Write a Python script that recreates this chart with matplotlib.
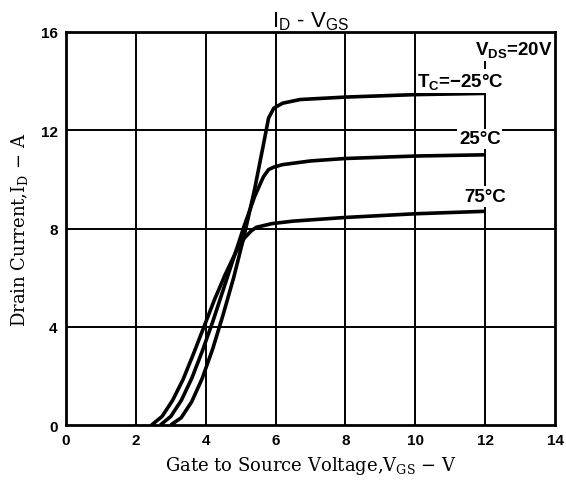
"""
I_D - V_GS transfer characteristic (V_DS = 20 V) at three case temperatures.
"""

import matplotlib.pyplot as plt

# curve readings: gate voltage (V) and drain current (A)
vgs_m25 = [3.0, 3.3, 3.6, 3.9, 4.2, 4.5, 4.8, 5.1, 5.4, 5.65, 5.8, 5.95, 6.2, 6.7, 8.0, 10.0, 12.0]
id_m25 = [0.0, 0.3, 0.95, 1.9, 3.1, 4.5, 6.0, 7.7, 9.6, 11.4, 12.5, 12.9, 13.1, 13.25, 13.35, 13.45, 13.5]

vgs_25 = [2.7, 3.0, 3.3, 3.6, 3.9, 4.2, 4.5, 4.8, 5.1, 5.4, 5.65, 5.8, 5.95, 6.2, 7.0, 8.0, 10.0, 12.0]
id_25 = [0.0, 0.35, 1.0, 1.9, 3.0, 4.2, 5.5, 6.8, 8.1, 9.3, 10.1, 10.4, 10.5, 10.6, 10.75, 10.85, 10.95, 11.0]

vgs_75 = [2.45, 2.75, 3.05, 3.35, 3.65, 3.95, 4.25, 4.55, 4.85, 5.1, 5.3, 5.45, 5.6, 5.9, 6.5, 8.0, 10.0, 12.0]
id_75 = [0.0, 0.35, 1.0, 1.85, 2.9, 4.0, 5.1, 6.1, 7.0, 7.6, 7.9, 8.05, 8.1, 8.2, 8.3, 8.45, 8.6, 8.7]

x_ticks = [0, 2, 4, 6, 8, 10, 12, 14]
y_ticks = [0, 4, 8, 12, 16]

SERIF = "DejaVu Serif"
SANS = "Liberation Sans"


def draw_frame(ax):
    ax.set_xlim(0, 14)
    ax.set_ylim(0, 16)
    ax.set_xticks(x_ticks)
    ax.set_yticks(y_ticks)
    ax.tick_params(length=0, pad=6)
    for lbl in ax.get_xticklabels() + ax.get_yticklabels():
        lbl.set_fontfamily(SANS)
        lbl.set_fontweight("bold")
        lbl.set_fontsize(11)
    for v in x_ticks[1:-1]:
        # the 12 V line stops under the V_DS note
        top = 15.2 / 16 if v == 12 else 1.0
        ax.axvline(v, ymax=top, color="black", linewidth=1.4, zorder=1)
    for v in y_ticks[1:-1]:
        ax.axhline(v, color="black", linewidth=1.4, zorder=1)
    for sp in ax.spines.values():
        sp.set_linewidth(2.0)


def draw_curves(ax):
    for xs, ys in [(vgs_m25, id_m25), (vgs_25, id_25), (vgs_75, id_75)]:
        ax.plot(xs, ys, color="black", linewidth=2.6, solid_capstyle="butt", zorder=3)


def draw_labels(ax):
    box = dict(facecolor="white", edgecolor="none", pad=1.2)
    note = dict(fontfamily=SANS, fontweight="semibold", fontsize=13.5, va="center", bbox=box, zorder=4)
    ax.text(13.92, 15.3, r"V$\mathregular{_{DS}}$=20V", ha="right", **note)
    ax.text(11.3, 14.0, r"T$\mathregular{_C}$=−25°C", ha="center", **note)
    ax.text(11.85, 11.65, "25°C", ha="center", **note)
    ax.text(12.0, 9.3, "75°C", ha="center", **note)

    ax.set_title(r"I$\mathregular{_D}$ - V$\mathregular{_{GS}}$", fontfamily=SANS,
                 fontsize=16, pad=1)
    ax.set_xlabel(r"Gate to Source Voltage,V$\mathregular{_{GS}}$ − V", fontfamily=SERIF,
                  fontsize=13, labelpad=5)
    ax.set_ylabel(r"Drain Current,I$\mathregular{_D}$ − A", fontfamily=SERIF,
                  fontsize=13, labelpad=8)


def main():
    fig = plt.figure(figsize=(5.66, 4.85), dpi=100)
    ax = fig.add_axes([0.1166, 0.1216, 0.864, 0.8104])
    draw_frame(ax)
    draw_curves(ax)
    draw_labels(ax)
    fig.savefig("out.png", dpi=100)
    plt.close(fig)


if __name__ == "__main__":
    main()
